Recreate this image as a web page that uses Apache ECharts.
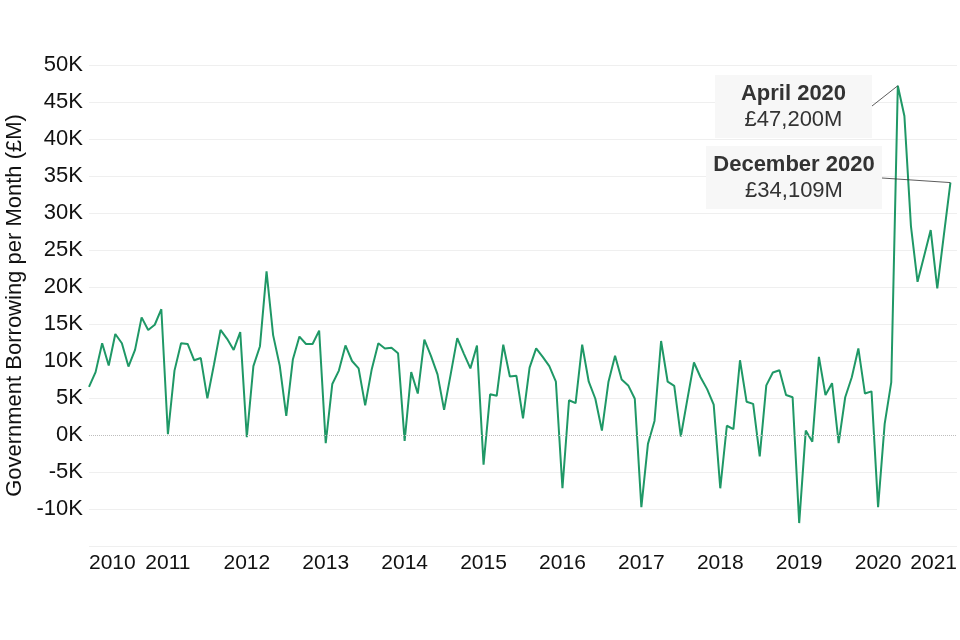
<!DOCTYPE html>
<html>
<head>
<meta charset="utf-8">
<script src="https://cdn.jsdelivr.net/npm/echarts@6/dist/echarts.min.js"></script>
<style>
  html, body { margin: 0; padding: 0; background: #fff; }
  #chart { width: 960px; height: 640px; }
</style>
</head>
<body>
<div id="chart"></div>
<script>
// Monthly government borrowing (£M), Jan..Dec of each year
const years = [2010, 2011, 2012, 2013, 2014, 2015, 2016, 2017, 2018, 2019, 2020];
const b2010 = [6500, 8500, 12400, 9400, 13650, 12400, 9250, 11500, 15900, 14200, 14900, 17000];
const b2011 = [100, 8700, 12400, 12300, 10100, 10400, 4950, 9500, 14200, 13000, 11500, 13900];
const b2012 = [-300, 9300, 12000, 22100, 13500, 9400, 2600, 10200, 13300, 12300, 12300, 14100];
const b2013 = [-1100, 6900, 8700, 12100, 10000, 9000, 4000, 8900, 12400, 11700, 11800, 11050];
const b2014 = [-800, 8500, 5600, 12900, 10700, 8200, 3400, 8200, 13100, 11000, 9000, 12100];
const b2015 = [-4000, 5500, 5300, 12200, 7900, 8000, 2250, 9100, 11700, 10550, 9300, 7200];
const b2016 = [-7200, 4700, 4300, 12200, 7200, 4900, 600, 7200, 10700, 7500, 6700, 4900];
const b2017 = [-9750, -1200, 1900, 12700, 7200, 6650, -200, 4850, 9800, 7800, 6200, 4100];
const b2018 = [-7200, 1250, 800, 10100, 4500, 4200, -2900, 6700, 8450, 8750, 5400, 5100];
const b2019 = [-11900, 600, -900, 10550, 5400, 7000, -1100, 5100, 7800, 11700, 5600, 5900];
const b2020 = [-9750, 1500, 7100, 47200, 43100, 28200, 20700, 24200, 27700, 19800, 27000, 34109];
const yTicks = [-15000, -10000, -5000, 0, 5000, 10000, 15000, 20000, 25000, 30000, 35000, 40000, 45000, 50000];

const annotations = [
  { month: '2020-04', title: 'April 2020', value: '£47,200M' },
  { month: '2020-12', title: 'December 2020', value: '£34,109M' }
];

const allYears = [b2010, b2011, b2012, b2013, b2014, b2015, b2016, b2017, b2018, b2019, b2020];
const categories = [];
const values = [];
years.forEach((y, yi) => {
  for (let m = 0; m < 12; m++) {
    categories.push(y + '-' + String(m + 1).padStart(2, '0'));
    values.push(allYears[yi][m]);
  }
});
categories.push('2021-01');
values.push('-');

const FONT = '"Liberation Sans", Arial, sans-serif';
const gridColors = yTicks.map(v => v === 0 ? 'rgba(0,0,0,0)' : '#efefef');

const chart = echarts.init(document.getElementById('chart'));
chart.setOption({
  animation: false,
  textStyle: { fontFamily: FONT },
  grid: { left: 89, right: 3, top: 65, bottom: 94, containLabel: false, outerBoundsMode: 'none' },
  xAxis: {
    type: 'category',
    data: categories,
    boundaryGap: false,
    axisLine: { show: false, onZero: false },
    axisTick: { show: false },
    splitLine: { show: false },
    axisLabel: {
      interval: 11,
      margin: 7,
      fontSize: 21,
      color: '#111',
      fontFamily: FONT,
      alignMinLabel: 'left',
      alignMaxLabel: 'right',
      formatter: v => v.slice(0, 4)
    }
  },
  yAxis: {
    type: 'value',
    min: -15000,
    max: 50000,
    interval: 5000,
    name: 'Government Borrowing per Month (£M)',
    nameLocation: 'middle',
    nameGap: 56,
    nameTextStyle: { fontSize: 22, color: '#111', fontFamily: FONT },
    axisLine: { show: false },
    axisTick: { show: false },
    splitLine: { show: true, lineStyle: { color: gridColors, width: 1 } },
    axisLabel: {
      fontSize: 22,
      color: '#111',
      margin: 6,
      fontFamily: FONT,
      formatter: v => v === -15000 ? '' : (v / 1000) + 'K'
    }
  },
  series: [{
    type: 'line',
    data: values,
    showSymbol: false,
    symbol: 'none',
    lineStyle: { color: '#1f9866', width: 2 },
    itemStyle: { color: '#1f9866' },
    markLine: {
      silent: true,
      symbol: 'none',
      label: { show: false },
      lineStyle: { color: '#bdbdbd', type: 'dotted', width: 1 },
      data: [{ yAxis: 0 }]
    },
    z: 3
  }]
});

// Annotation boxes (layout), connectors end at the data points
const boxes = [
  { x: 715, y: 75, w: 157, h: 63, anchor: [872, 106] },
  { x: 706, y: 146, w: 176, h: 63, anchor: [882, 178] }
];
const graphics = [];
annotations.forEach((a, i) => {
  const idx = categories.indexOf(a.month);
  const p = chart.convertToPixel({ seriesIndex: 0 }, [idx, values[idx]]);
  const b = boxes[i];
  graphics.push({
    type: 'rect', z: 10,
    shape: { x: b.x, y: b.y, width: b.w, height: b.h },
    style: { fill: '#f7f7f7' }
  });
  graphics.push({
    type: 'text', z: 11,
    x: b.x + b.w / 2, y: b.y + 19,
    style: { text: a.title, fill: '#333', font: 'bold 22px ' + FONT, align: 'center', verticalAlign: 'middle' }
  });
  graphics.push({
    type: 'text', z: 11,
    x: b.x + b.w / 2, y: b.y + 45,
    style: { text: a.value, fill: '#333', font: '22px ' + FONT, align: 'center', verticalAlign: 'middle' }
  });
  graphics.push({
    type: 'line', z: 12,
    shape: { x1: b.anchor[0], y1: b.anchor[1], x2: p[0], y2: p[1] },
    style: { stroke: '#333', lineWidth: 0.8 }
  });
});
chart.setOption({ graphic: graphics });
</script>
</body>
</html>
